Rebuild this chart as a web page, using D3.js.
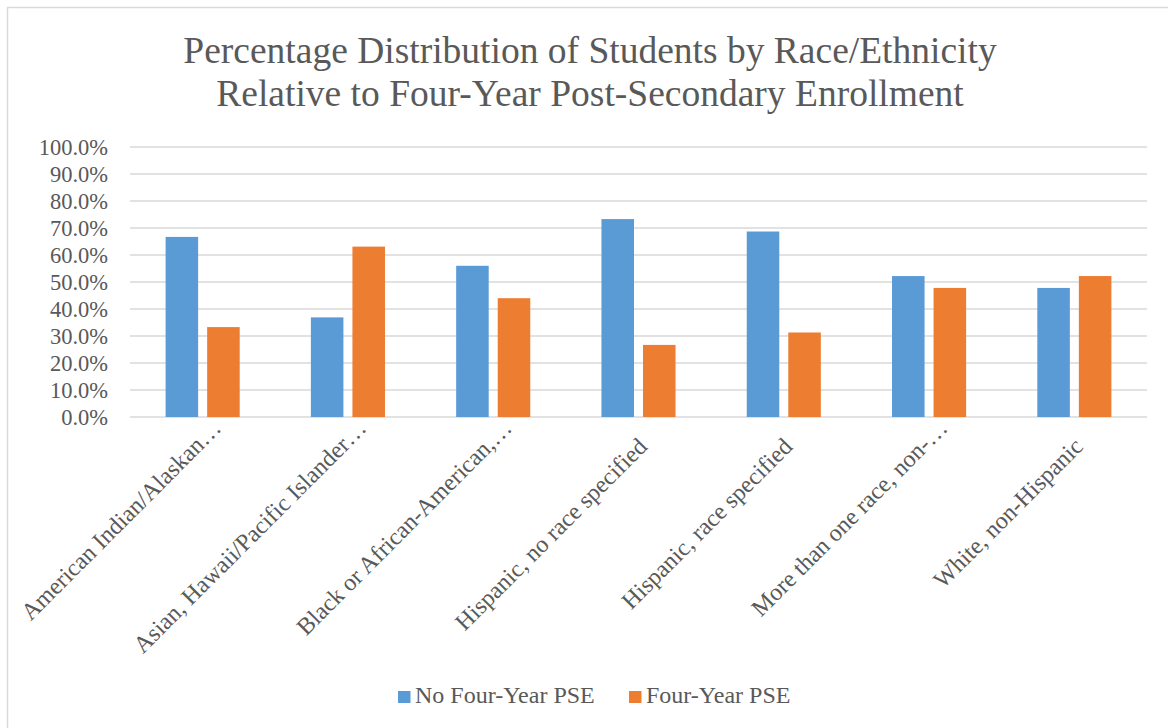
<!DOCTYPE html>
<html><head><meta charset="utf-8">
<script src="https://cdn.jsdelivr.net/npm/d3@7"></script>
<style>body{margin:0;background:#fff}</style>
</head><body>
<script>
const categories = ["American Indian/Alaskan…","Asian, Hawaii/Pacific Islander…","Black or African-American,…","Hispanic, no race specified","Hispanic, race specified","More than one race, non-…","White, non-Hispanic"];
const seriesNames = ["No Four-Year PSE","Four-Year PSE"];
const noFourYear = [66.7, 36.9, 56.0, 73.3, 68.7, 52.2, 47.8];
const fourYear = [33.3, 63.1, 44.0, 26.7, 31.3, 47.8, 52.2];
const yTicks = [0,10,20,30,40,50,60,70,80,90,100];
const colors = ["#5b9bd5","#ed7d31"];
const titleLines = ["Percentage Distribution of Students by Race/Ethnicity","Relative to Four-Year Post-Secondary Enrollment"];

const W=1168,H=728;
const svg=d3.select("body").append("svg").attr("width",W).attr("height",H);
const font="'Liberation Serif','Times New Roman',serif";
const txt="#595959";
svg.append("rect").attr("x",7.5).attr("y",7.5).attr("width",1180).attr("height",740).attr("fill","#fff").attr("stroke","#d9d9d9").attr("stroke-width",1.5);

const m={l:130,r:1147,t:147,b:417};
const x0=d3.scaleBand().domain(categories).range([m.l,m.r]).paddingInner(0.49).paddingOuter(0.245);
const x1=d3.scaleBand().domain(seriesNames).range([0,x0.bandwidth()]).paddingInner(0.217);
const y=d3.scaleLinear().domain([0,100]).range([m.b,m.t]);

// grid
svg.append("g").selectAll("line").data(yTicks).join("line")
 .attr("x1",m.l).attr("x2",m.r).attr("y1",d=>y(d)).attr("y2",d=>y(d))
 .attr("stroke","#d9d9d9").attr("stroke-width",1.5);

// y axis
const yAxis=d3.axisLeft(y).tickValues(yTicks).tickSize(0).tickPadding(0).tickFormat(d=>d.toFixed(1)+"%");
const ya=svg.append("g").attr("transform",`translate(${m.l-22},0)`).call(yAxis);
ya.select(".domain").remove();
ya.selectAll("text").style("font-family",font).style("font-size","22.5px").attr("fill",txt).attr("dy","0.34em");

// bars
const data=categories.map((c,i)=>({c,vals:[noFourYear[i],fourYear[i]]}));
const g=svg.append("g").selectAll("g").data(data).join("g").attr("transform",d=>`translate(${x0(d.c)},0)`);
g.selectAll("rect").data(d=>d.vals.map((v,j)=>({s:seriesNames[j],v,j}))).join("rect")
 .attr("x",d=>x1(d.s)).attr("width",x1.bandwidth())
 .attr("y",d=>y(d.v)).attr("height",d=>y(0)-y(d.v))
 .attr("fill",d=>colors[d.j]);

// x axis labels
const xAxis=d3.axisBottom(x0).tickSize(0).tickPadding(0);
const xa=svg.append("g").attr("transform",`translate(0,${m.b})`).call(xAxis);
xa.select(".domain").remove();
xa.selectAll("text").style("font-family",font).style("font-size","24px").attr("fill",txt)
 .attr("text-anchor","end").attr("y",0)
 .attr("dy",d=>d.endsWith("…")?-6:0).attr("dx",d=>d.endsWith("…")?20:0)
 .attr("transform","translate(10,31) rotate(-45)");

// title
svg.append("text").attr("x",590).attr("y",63).attr("text-anchor","middle")
 .style("font-family",font).style("font-size","37.5px").attr("fill",txt)
 .selectAll("tspan").data(titleLines).join("tspan").attr("x",590).attr("dy",(d,i)=>i?43:0).text(d=>d);

// legend
const lg=svg.append("g");
const items=[{n:seriesNames[0],x:398,c:colors[0]},{n:seriesNames[1],x:629,c:colors[1]}];
items.forEach(it=>{
 lg.append("rect").attr("x",it.x).attr("y",691).attr("width",12.5).attr("height",12).attr("fill",it.c);
 lg.append("text").attr("x",it.x+17).attr("y",703).style("font-family",font).style("font-size","24px").attr("fill",txt).text(it.n);
});
</script>
</body></html>
